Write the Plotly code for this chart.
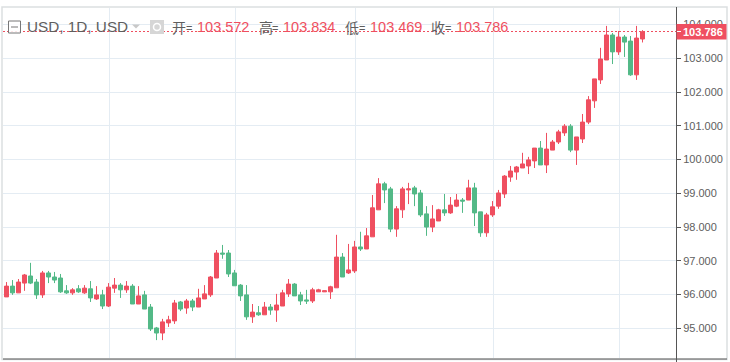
import plotly.graph_objects as go

opens = [95.93,96.25,96.05,96.34,96.55,96.37,95.99,96.64,96.52,96.49,
         96.11,96.05,96.17,96.05,96.17,95.87,95.99,95.66,96.19,96.28,
         96.14,96.25,95.72,95.99,95.63,95.01,94.86,95.16,95.22,95.78,
         95.60,95.81,95.63,95.87,95.99,96.49,97.23,97.23,96.64,96.28,
         95.99,95.34,95.46,95.40,95.63,95.54,95.66,96.02,96.31,95.99,
         95.84,95.81,96.08,96.08,96.08,96.20,97.11,96.64,96.70,97.41,
         97.35,97.71,98.51,99.28,99.13,97.94,98.51,99.10,99.16,99.01,
         98.39,98.00,98.18,98.51,98.42,98.62,98.80,98.80,99.16,98.45,
         97.83,98.36,98.62,98.98,99.48,99.63,99.75,99.81,99.96,100.34,
         99.84,100.28,100.52,100.79,100.99,100.28,100.61,101.11,101.74,102.36,
         102.95,103.69,103.19,103.63,103.51,102.51,103.572]
closes = [96.25,96.05,96.37,96.58,96.34,95.99,96.64,96.52,96.43,96.08,
          96.05,96.14,96.08,96.19,95.90,95.99,95.66,96.22,96.28,96.14,
          96.25,95.72,95.96,95.57,94.98,94.86,95.19,95.25,95.75,95.57,
          95.81,95.63,95.90,96.02,96.52,97.23,97.20,96.61,96.26,95.96,
          95.34,95.48,95.40,95.63,95.54,95.69,96.05,96.31,95.96,95.81,
          95.81,96.14,96.14,96.11,96.23,97.11,96.52,96.73,97.41,97.35,
          97.74,98.57,99.28,99.10,97.94,98.54,99.13,99.13,98.98,98.36,
          98.00,98.24,98.51,98.42,98.65,98.80,98.77,99.16,98.42,97.83,
          98.36,98.60,99.01,99.51,99.66,99.78,99.87,99.99,100.34,99.84,
          100.31,100.52,100.82,100.99,100.28,100.67,101.11,101.77,102.39,102.98,
          103.69,103.19,103.63,103.48,102.51,103.60,103.786]
highs = [96.37,96.43,96.46,96.61,96.94,96.46,96.70,96.70,96.67,96.61,
         96.28,96.19,96.28,96.28,96.40,96.25,96.14,96.34,96.49,96.34,
         96.40,96.31,96.25,96.11,95.72,95.04,95.28,95.37,95.84,95.81,
         95.87,95.87,96.17,96.28,96.55,97.32,97.47,97.32,96.73,96.31,
         96.28,95.72,95.66,95.78,95.72,96.02,96.14,96.46,96.34,96.08,
         96.14,96.20,96.17,96.11,96.26,97.77,97.23,97.50,97.59,97.86,
         97.97,98.95,99.45,99.34,99.19,98.62,99.19,99.31,99.22,99.10,
         98.62,98.65,98.54,98.98,98.89,98.98,98.86,99.40,99.31,98.45,
         98.42,98.77,99.10,99.54,99.81,99.81,100.20,100.08,100.34,100.55,
         100.79,100.58,100.88,101.05,101.05,100.67,101.35,101.88,102.39,103.31,
         103.96,103.75,103.81,103.69,103.66,103.96,103.834]
lows = [95.93,95.99,96.05,96.11,96.31,95.87,95.90,96.34,96.34,96.05,
        96.02,95.99,96.05,96.02,95.78,95.84,95.57,95.63,96.05,95.90,
        96.05,95.72,95.72,95.57,94.92,94.65,94.65,95.04,95.13,95.51,
        95.43,95.51,95.63,95.87,95.93,96.49,97.06,96.52,96.26,95.81,
        95.25,95.16,95.37,95.40,95.40,95.19,95.66,95.93,95.96,95.69,
        95.72,95.75,96.08,96.08,95.87,96.20,96.52,96.61,96.64,97.29,
        97.35,97.71,98.51,98.71,97.85,97.71,98.27,98.68,98.62,98.30,
        97.74,97.85,98.18,98.33,98.39,98.59,98.42,98.80,98.03,97.71,
        97.71,98.30,98.54,98.86,99.34,99.40,99.75,99.57,99.75,99.84,
        99.60,100.28,100.46,100.70,100.22,99.84,100.49,101.05,101.53,102.24,
        102.95,102.83,103.10,103.04,102.48,102.36,103.469]
sessions = list(range(len(opens)))
y_ticks = [95, 96, 97, 98, 99, 100, 101, 102, 103, 104]
x_grid = [17.17, 38.17, 58.13, 81.13, 102.17]

RED = "#ef4f60"
GREEN = "#53b987"
GRID = "#e4ecf3"
AXIS = "#555555"
BORDER = "#dcdfe1"
TEXT = "#5e5e5e"
W, H = 730, 362
L, R, T, B = 3, 676, 8, 358

def px(x):
    return (x - L) / (R - L)

def py(y):
    return (B - y) / (B - T)

fig = go.Figure(go.Candlestick(
    x=sessions, open=opens, high=highs, low=lows, close=closes,
    increasing=dict(line=dict(color=RED, width=1), fillcolor=RED),
    decreasing=dict(line=dict(color=GREEN, width=1), fillcolor=GREEN),
    whiskerwidth=0, hoverinfo="skip", showlegend=False))

shapes = [
    dict(type="rect", xref="paper", yref="paper", x0=px(2), x1=px(727), y0=py(7), y1=py(359.5),
         line=dict(color=BORDER, width=1.5), layer="below"),
    dict(type="line", xref="paper", yref="paper", x0=px(3), x1=px(727), y0=py(359), y1=py(359),
         line=dict(color=AXIS, width=1)),
    dict(type="line", xref="paper", yref="paper", x0=px(676.5), x1=px(676.5), y0=py(7), y1=py(362),
         line=dict(color=AXIS, width=1)),
    dict(type="line", xref="paper", yref="paper", x0=0, x1=1, y0=py(31.5), y1=py(31.5),
         line=dict(color=RED, width=1, dash="2px,2px")),
    dict(type="rect", xref="paper", yref="paper", x0=px(676.5), x1=px(726.5), y0=py(24), y1=py(39.5),
         line=dict(width=0), fillcolor=RED),
    dict(type="line", xref="paper", yref="paper", x0=px(677), x1=px(681), y0=py(31.5), y1=py(31.5),
         line=dict(color="#ffffff", width=1)),
    # header icons
    dict(type="rect", xref="paper", yref="paper", x0=px(8.5), x1=px(20.5), y0=py(21), y1=py(33),
         line=dict(color="#777777", width=1), fillcolor="rgba(255,255,255,0.85)"),
    dict(type="line", xref="paper", yref="paper", x0=px(11), x1=px(18), y0=py(27), y1=py(27),
         line=dict(color="#777777", width=1)),
    dict(type="path", xref="paper", yref="paper",
         path=f"M {px(132)} {py(24.5)} L {px(140)} {py(24.5)} L {px(136)} {py(28.5)} Z",
         line=dict(width=0), fillcolor="#c8c8c8"),
    dict(type="rect", xref="paper", yref="paper", x0=px(150), x1=px(164), y0=py(20), y1=py(34),
         line=dict(width=0), fillcolor="#d6d6d6"),
    dict(type="circle", xref="paper", yref="paper", x0=px(153.5), x1=px(160.5), y0=py(23.5), y1=py(30.5),
         line=dict(color="#ffffff", width=1.5), fillcolor="#d6d6d6"),
]

def label(x, y, text, color, size, family="Liberation Sans, Arial, sans-serif"):
    return dict(xref="paper", yref="paper", x=px(x), y=py(y), text=text, showarrow=False,
                xanchor="left", yanchor="middle", font=dict(color=color, size=size, family=family),
                borderpad=0, borderwidth=0)

CJK = "Noto Sans CJK SC, sans-serif"
annotations = [
    label(26.5, 27, "USD, 1D, USD", TEXT, 15.3),
    label(172, 27, "开", TEXT, 14, CJK), label(186, 28, "=", TEXT, 11),
    label(197, 27, "103.572", RED, 14.5),
    label(259, 27, "高", TEXT, 14, CJK), label(272, 28, "=", TEXT, 11),
    label(283, 27, "103.834", RED, 14.5),
    label(345, 27, "低", TEXT, 14, CJK), label(359, 28, "=", TEXT, 11),
    label(370, 27, "103.469", RED, 14.5),
    label(431, 27, "收", TEXT, 14, CJK), label(445, 28, "=", TEXT, 11),
    label(456, 27, "103.786", RED, 14.5),
    dict(xref="paper", yref="paper", x=px(703), y=py(32), text="<b>103.786</b>", showarrow=False,
         xanchor="center", yanchor="middle",
         font=dict(color="#ffffff", size=11, family="Liberation Sans, Arial, sans-serif")),
]

fig.update_layout(
    width=W, height=H, margin=dict(l=L, r=W - R, t=T, b=H - B, pad=0, autoexpand=False),
    paper_bgcolor="#ffffff", plot_bgcolor="#ffffff", boxgap=0.33, boxgroupgap=0, showlegend=False,
    shapes=shapes, annotations=annotations,
    xaxis=dict(range=[(L - 6.5) / 6, (R - 6.5) / 6], rangeslider=dict(visible=False),
               tickmode="array", tickvals=x_grid, showticklabels=False, ticks="",
               showgrid=True, gridcolor=GRID, gridwidth=1, zeroline=False, showline=False),
    yaxis=dict(range=[103 - (B - 58.3) / 33.75, 103 + (58.3 - T) / 33.75], side="right",
               tickmode="array", tickvals=y_ticks, tickformat=".3f", ticks="outside", ticklen=4,
               tickcolor=AXIS, tickwidth=1, showgrid=True, gridcolor=GRID, gridwidth=1,
               zeroline=False, showline=False,
               tickfont=dict(family="Liberation Sans, Arial, sans-serif", size=11, color=TEXT)),
)

fig.write_html("out.html", config={"displayModeBar": False},
               post_script="document.body.style.margin='0';document.body.style.overflow='hidden';")
